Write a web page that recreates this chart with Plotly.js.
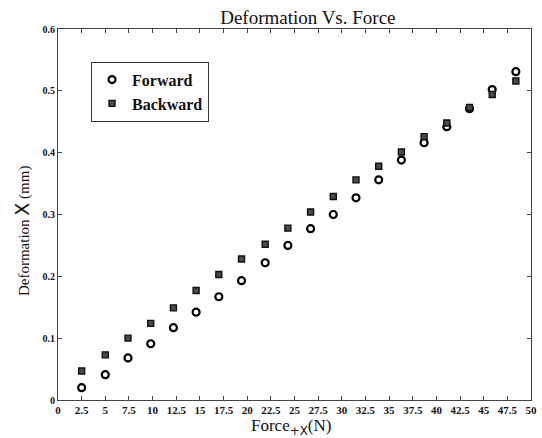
<!DOCTYPE html>
<html>
<head>
<meta charset="utf-8">
<script src="https://cdn.plot.ly/plotly-3.0.1.min.js"></script>
<style>html,body{margin:0;padding:0;background:#fff;}#chart{width:542px;height:438px;}</style>
</head>
<body>
<div id="chart"></div>
<script>
var forceN = [2.5, 5.0, 7.4, 9.8, 12.2, 14.6, 17.0, 19.4, 21.9, 24.3, 26.7, 29.1, 31.5, 33.9, 36.3, 38.7, 41.1, 43.5, 45.9, 48.4];
var forwardMM = [0.020, 0.041, 0.068, 0.091, 0.117, 0.142, 0.167, 0.193, 0.222, 0.250, 0.277, 0.300, 0.327, 0.356, 0.388, 0.416, 0.442, 0.471, 0.502, 0.531];
var backwardMM = [0.047, 0.073, 0.100, 0.124, 0.149, 0.177, 0.203, 0.228, 0.252, 0.278, 0.304, 0.329, 0.356, 0.378, 0.401, 0.426, 0.448, 0.473, 0.494, 0.516];
var xTickVals = [0, 2.5, 5, 7.5, 10, 12.5, 15, 17.5, 20, 22.5, 25, 27.5, 30, 32.5, 35, 37.5, 40, 42.5, 45, 47.5, 50];
var yTickVals = [0, 0.1, 0.2, 0.3, 0.4, 0.5, 0.6];

var serif = "Liberation Serif, Times New Roman, serif";
var traces = [
  {x: forceN, y: forwardMM, name: "Forward", mode: "markers", type: "scatter",
   marker: {symbol: "circle-open", size: 7, color: "#000", line: {width: 2.2, color: "#000"}}},
  {x: forceN, y: backwardMM, name: "Backward", mode: "markers", type: "scatter",
   marker: {symbol: "square", size: 6, color: "#4a4a4a", line: {width: 1.4, color: "#111"}}}
];
var axisCommon = {
  showgrid: false, zeroline: false, showline: true, mirror: "ticks", linecolor: "#444", linewidth: 1,
  ticks: "inside", ticklen: 4, tickcolor: "#444", automargin: false
};
var layout = {
  width: 542, height: 438,
  margin: {l: 58, r: 11, t: 29, b: 38},
  paper_bgcolor: "#fff", plot_bgcolor: "#fff",
  title: {text: "Deformation Vs. Force", xref: "container", x: 0.568, xanchor: "center",
          yref: "container", y: 0.96, yanchor: "middle",
          font: {family: serif, size: 19, color: "#111"}},
  xaxis: Object.assign({}, axisCommon, {
    range: [0, 50], tickvals: xTickVals, ticktext: xTickVals.map(String),
    tickfont: {family: serif, size: 11, color: "#111", weight: "bold"}
  }),
  yaxis: Object.assign({}, axisCommon, {
    range: [0, 0.6], tickvals: yTickVals, ticktext: yTickVals.map(String),
    tickfont: {family: serif, size: 10, color: "#111", weight: "bold"}
  }),
  annotations: [
    {text: "Force<sub><span style='font-family:DejaVu Sans'>+X</span></sub>(N)", xref: "paper", yref: "paper",
     x: 0.493, y: -0.074, xanchor: "center", yanchor: "middle", showarrow: false,
     font: {family: serif, size: 17, color: "#111"}},
    {text: "Deformation <span style='font-family:DejaVu Sans;font-size:19px'>X</span> (mm)", xref: "paper", yref: "paper",
     x: -0.076, y: 0.4555, xanchor: "center", yanchor: "middle", textangle: -90, showarrow: false,
     font: {family: serif, size: 15, color: "#111"}}
  ],
  showlegend: true,
  legend: {x: 0.0698, y: 0.912, xanchor: "left", yanchor: "top", bgcolor: "#fff",
           bordercolor: "#333", borderwidth: 1,
           font: {family: serif, size: 16, color: "#111", weight: "bold"}, itemwidth: 30, tracegroupgap: 0}
};
Plotly.newPlot("chart", traces, layout, {displayModeBar: false, staticPlot: true});
</script>
</body>
</html>
